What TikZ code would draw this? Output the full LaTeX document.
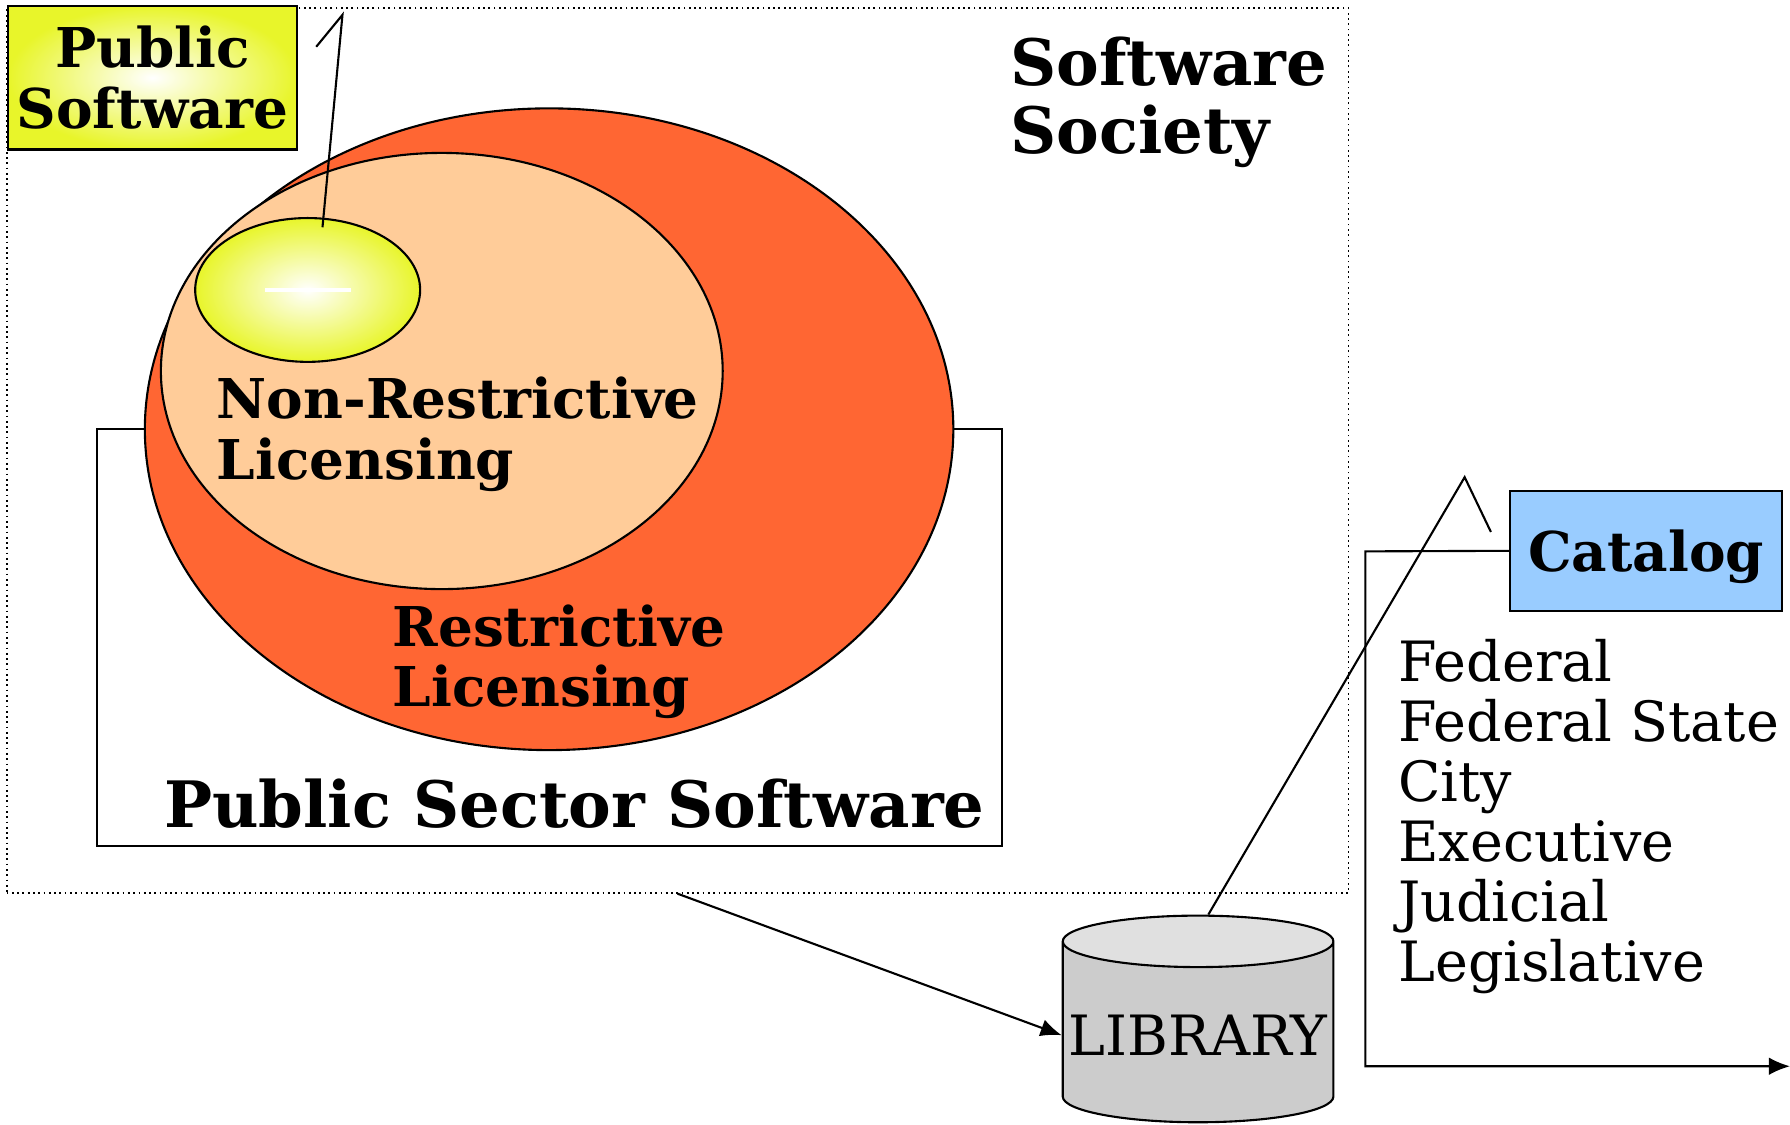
\documentclass[tikz,border=0pt]{standalone}
\usepackage{fontspec}
\setmainfont{DejaVu Serif}
\usetikzlibrary{calc,positioning,arrows.meta,shapes.geometric}

\definecolor{restrictorange}{HTML}{FF6633}
\definecolor{nonrestrictpeach}{HTML}{FFCC99}
\definecolor{publicyellow}{HTML}{E8F52A}
\definecolor{catalogblue}{HTML}{99CCFF}
\definecolor{librarygrey}{HTML}{CCCCCC}
\definecolor{librarytop}{HTML}{E0E0E0}

\tikzset{
  boldtext/.style={font=\bfseries\fontsize{15.6}{17.2}\selectfont, align=left, inner sep=0pt},
  bigtext/.style={font=\bfseries\fontsize{18.2}{19.5}\selectfont, align=left, inner sep=0pt},
  plaintext/.style={font=\fontsize{15.8}{17.1}\selectfont, align=left, inner sep=0pt},
  arrowline/.style={-{Latex[length=6pt,width=5pt]}},
}

\begin{document}
\begin{tikzpicture}[x=0.011416cm, y=-0.011416cm, line width=0.6pt]
  \useasboundingbox (0,0) rectangle (1568,985);

  \node [draw,densely dotted,line width=0.5pt,rectangle, minimum width=13.414cm, minimum height=8.847cm] at (593.5,394.5) (society) {};
  \node [draw,rectangle,fill=white, minimum width=9.053cm, minimum height=4.167cm] at (481.5,558.5) (sector) {};

  \node [draw,ellipse,fill=restrictorange,inner sep=0pt, minimum width=8.083cm, minimum height=6.416cm] at (481,376) (restrictive) {};
  \node [draw,ellipse,fill=nonrestrictpeach,inner sep=0pt, minimum width=5.617cm, minimum height=4.361cm] at (387,325) (nonrestrictive) {};
  \node [draw,ellipse,inner color=white,outer color=publicyellow,inner sep=0pt, minimum width=2.249cm, minimum height=1.438cm] at (269.5,254) (publicell) {};
  \draw [white,line width=1.2pt] ($(publicell.center)+(-37,0)$) -- ($(publicell.center)+(38,0)$);

  \node [boldtext, anchor=north west] at (189,329.5) (nonrestrictive_text) {Non-Restrictive\\Licensing};
  \node [boldtext, anchor=north west] at (343,528.5) (restrictive_text) {Restrictive\\Licensing};
  \node [bigtext, anchor=north west] at (143,681) (sector_text) {Public Sector Software};
  \node [bigtext, anchor=north west] at (884,31) (society_text) {Software\\Society};

  \node [draw,rectangle,inner color=white,outer color=publicyellow,inner sep=2pt, minimum width=2.888cm, minimum height=1.438cm, font=\bfseries\fontsize{15.6}{17.2}\selectfont, align=center] at (133.5,68) (pubsoftware) {Public\\Software};
  \coordinate (pub_tail) at (277,41);
  \coordinate (pub_peak) at (300,13);
  \draw (pub_tail) -- (pub_peak) -- ($(publicell.north)+(13,9)$);

  %library and catalog
  \node [draw,cylinder,shape border rotate=90,aspect=0.194,inner sep=1pt, cylinder uses custom fill, cylinder body fill=librarygrey, cylinder end fill=librarytop, minimum width=2.706cm, minimum height=2.066cm, font=\fontsize{15.8}{17}\selectfont, anchor=south] at (1049.5,984) (library) {LIBRARY};
  \draw [arrowline] (society.south) -- (library.west);

  \node [draw,rectangle,fill=catalogblue, minimum width=2.717cm, minimum height=1.199cm, text depth=0pt, font=\bfseries\fontsize{15.6}{17}\selectfont] at (1442,482.5) (catalog) {Catalog};
  \coordinate (lib_peak) at (1283,418);
  \coordinate (lib_tail) at (1306,466);
  \draw ($(library.north)+(9,0)$) -- (lib_peak) -- (lib_tail);

  \node [plaintext, anchor=north west] at (1224,559) (levels) {Federal\\Federal State\\City\\Executive\\Judicial\\Legislative};
  \coordinate (bracket_top) at (1196,483);
  \coordinate (bracket_end) at (1568,934);
  \draw [arrowline] (catalog.west) -- (bracket_top) |- (bracket_end);

\end{tikzpicture}
\end{document}
